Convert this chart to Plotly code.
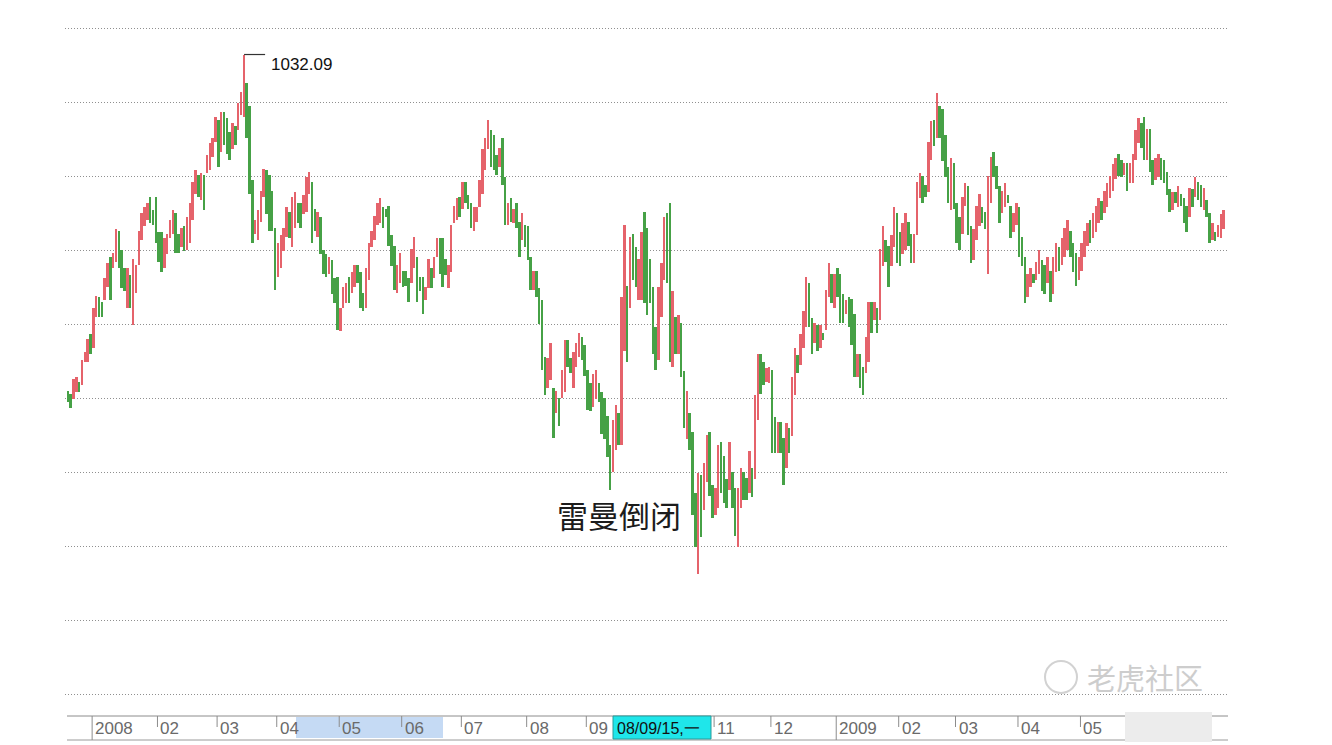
import pandas as pd
import plotly.graph_objects as go

# ---------------- data (daily high / low, gold spot) ----------------
high_dec07 = [805, 803, 813, 814, 811, 826, 831, 840, 843]
low_dec07 = [797, 793, 799, 804, 804, 809, 824, 824, 830]
dir_dec07 = "DDUUDUUUD"

high_2008 = [
    # Jan
    861, 869, 868, 865, 881, 891, 895, 898, 914, 913, 900, 888, 888, 883, 894, 890, 913, 925, 929, 932, 936, 927, 936,
    # Feb
    912, 912, 908, 911, 920, 927, 925, 911, 915, 916, 922, 932, 946, 954, 951, 952, 951, 964, 972, 976, 990,
    # Mar
    988, 993, 993, 989, 980, 986, 984, 999, 1007, 1032.09, 1013, 997, 947, 920, 927, 940, 955, 954, 951, 940, 915,
    # Apr
    905, 910, 915, 929, 926, 936, 939, 932, 932, 937, 949, 953, 946, 928, 926, 922, 900, 897, 895, 893, 881, 882,
    # May
    861, 875, 878, 882, 885, 890, 890, 885, 871, 888, 905, 913, 923, 932, 935, 929, 928, 930, 910, 903, 890, 898,
    # Jun
    886, 886, 881, 901, 909, 895, 882, 882, 875, 894, 888, 895, 908, 908, 908, 894, 890, 917, 930, 935, 936,
    # Jul
    946, 946, 937, 932, 929, 929, 947, 968, 976, 988, 981, 978, 964, 969, 976, 949, 932, 935, 928, 932, 919, 925, 917,
    # Aug
    916, 895, 886, 886, 874, 866, 828, 827, 837, 807, 805, 800, 819, 839, 839, 827, 831, 837, 844, 841, 836,
    # Sep
    819, 810, 816, 819, 810, 804, 800, 788, 768, 785, 795, 790, 868, 917, 876, 909, 911, 902, 894, 912, 926, 915,
    # Oct
    894, 875, 848, 875, 891, 922, 925, 932, 872, 855, 856, 851, 818, 805, 790, 777, 736, 749, 748, 756, 775, 777, 741,
    # Nov
    739, 768, 770, 761, 745, 770, 750, 739, 739, 753, 750, 746, 764, 753, 802, 830, 830, 824, 820, 821,
    # Dec
    819, 787, 784, 784, 773, 783, 780, 814, 834, 829, 843, 859, 882, 878, 854, 851, 849, 849, 844, 873, 891, 884, 884,
]
low_2008 = [
    834, 855, 855, 855, 866, 875, 866, 888, 892, 888, 874, 872, 861, 861, 849, 871, 890, 907, 916, 920, 918, 917, 905,
    892, 885, 888, 897, 908, 911, 898, 898, 902, 899, 900, 905, 920, 938, 936, 934, 927, 952, 954, 963, 973,
    956, 966, 971, 965, 961, 968, 971, 981, 991, 990, 976, 938, 905, 911, 907, 919, 936, 924, 913, 913, 873,
    882, 888, 899, 909, 908, 902, 915, 918, 915, 924, 926, 938, 905, 913, 909, 897, 884, 882, 884, 870, 864, 846,
    845, 861, 864, 864, 871, 875, 878, 861, 859, 861, 880, 902, 907, 917, 918, 915, 922, 903, 889, 873, 871, 878,
    875, 876, 865, 878, 888, 865, 872, 857, 866, 874, 874, 881, 895, 884, 875, 883, 874, 885, 918, 920, 922,
    928, 932, 928, 915, 913, 919, 929, 938, 954, 968, 956, 954, 951, 956, 944, 917, 917, 919, 918, 915, 895, 907, 902,
    893, 873, 873, 868, 850, 819, 802, 807, 812, 773, 790, 781, 800, 804, 821, 817, 807, 821, 828, 826, 815,
    792, 791, 794, 799, 797, 776, 772, 760, 738, 750, 765, 768, 768, 832, 824, 861, 880, 875, 866, 866, 864, 856,
    864, 830, 819, 826, 855, 880, 878, 824, 821, 830, 830, 814, 780, 772, 765, 721, 699, 681, 706, 724, 743, 734, 719,
    721, 726, 736, 729, 726, 738, 726, 707, 699, 726, 731, 731, 736, 733, 745, 785, 803, 809, 811, 810,
    763, 763, 763, 763, 741, 753, 763, 774, 802, 817, 822, 834, 848, 848, 830, 837, 832, 834, 839, 846, 868, 864, 861,
]
dir_2008 = ("UUDDUUDUUDDDUDUUUUUUDDD" "DDUUUUDDUDUUUUDUDUUUU" "DUDDDUDUUUDDDUUUUDDDD"
            "UUUUDUUDDUUUDDUDDDUDDD" "UUUDUUDDDUUUUUUDDDDDUU" "DDDUUDDDUUDUUDDDUUUUD"
            "UDDDUUUUUUDDDUDDUDUDDUD" "DDUDDDDUUDUDUUDDUUUDD" "DDUUDDDDDUUDUUDUDDUUDD"
            "DDDUUUDDUDUDDUDDDUDUUDD" "UUDDDUDDUUDDUDUUDDUU" "DDUDDUDUUDUUUDDUDUDUUDU")

high_2009 = [
    # Jan
    888, 884, 870, 866, 868, 867, 857, 830, 830, 821, 841, 865, 865, 865, 861, 901, 916, 907, 903, 910, 929, 925,
    # Feb
    912, 918, 925, 919, 911, 911, 946, 952, 950, 944, 973, 987, 988, 1006, 997, 995, 978, 956, 962, 959,
    # Mar
    932, 922, 936, 945, 943, 916, 914, 930, 938, 929, 926, 950, 963, 966, 957, 943, 940, 945, 937, 930, 925, 932,
    # Apr
    929, 909, 895, 884, 888, 884, 892, 900, 893, 890, 895, 886, 895, 905, 902, 908, 915, 920, 913, 905, 898, 895,
    # May
    905, 913, 918, 920, 925, 930, 935, 933, 940, 945, 950, 958, 962, 965, 961, 959, 959, 959, 965, 981, 989,
    # Jun
    986, 990, 982, 982, 961, 962, 965, 962, 961, 953, 941, 939, 939, 943, 938, 935, 930, 942, 941, 949, 946, 944,
    # Jul
    942, 934, 925, 918, 912, 917, 924, 927,
]
low_2009 = [
    868, 851, 851, 857, 848, 836, 814, 814, 807, 802, 817, 824, 844, 853, 844, 853, 889, 892, 875, 889, 902, 891,
    889, 897, 900, 903, 891, 891, 910, 935, 932, 936, 939, 961, 970, 976, 976, 960, 949, 932, 927, 928,
    905, 900, 911, 930, 910, 891, 893, 907, 916, 918, 914, 884, 932, 949, 941, 918, 925, 929, 932, 908, 912, 917,
    895, 889, 864, 868, 875, 878, 880, 884, 872, 870, 878, 865, 870, 885, 886, 890, 895, 900, 895, 885, 876, 880,
    886, 895, 903, 905, 908, 912, 918, 920, 925, 929, 935, 940, 948, 950, 949, 951, 940, 945, 945, 961, 972,
    969, 961, 961, 953, 944, 947, 949, 947, 945, 937, 926, 927, 932, 929, 930, 918, 912, 922, 929, 936, 934, 929,
    927, 922, 905, 907, 906, 909, 908, 914,
]
dir_2009 = ("DDDUDDDUDDUUDUDUUDDUUD" "DUUDDUUUDDUUDUDDDDUD" "DDUUDDUUUDDUUDDDUUDDUU"
            "DDDUUDUUDDUDUUDUUUDDDU" "UUUDUUUDUUUUUDDUDUUUU" "DDUDDUUDDDDUDUDDDUDUDD" "UDDUDUUU")

highs = high_dec07 + high_2008 + high_2009
lows = low_dec07 + low_2008 + low_2009
dirs = dir_dec07 + dir_2008 + dir_2009

peak_value = 1032.09
event_text = "雷曼倒闭"
cursor_text = "08/09/15,一"
watermark_text = "老虎社区"

n = min(len(highs), len(lows), len(dirs))
highs, lows, dirs = highs[:n], lows[:n], dirs[:n]
dates = pd.bdate_range("2007-12-19", periods=n)
idx = list(range(n))

# ---------------- figure ----------------
RED = "#e5636b"
GREEN = "#46a146"
colors = [RED if d == "U" else GREEN for d in dirs]

fig = go.Figure()
fig.add_trace(go.Bar(
    x=idx, y=[h - l for h, l in zip(highs, lows)], base=lows,
    marker=dict(color=colors, line=dict(width=0)), width=0.7,
    hoverinfo="skip", showlegend=False,
))

W, H = 1332, 745
ML, MR, MT, MB = 65, 104, 0, 40
PW = W - ML - MR
PH = H - MT - MB
px_per_bar = 2.84
x0 = -3 / px_per_bar
x1 = x0 + PW / px_per_bar
ppd = 1.48
ymax = 1050 + 28 / ppd
ymin = ymax - PH / ppd


def px_x(px):
    return (px - ML) / PW


def px_y(py):
    return (PH + MT - py) / PH


shapes = []
annotations = []

# bottom time band
band_top, band_bot = px_y(716), px_y(740)
shapes.append(dict(type="rect", xref="paper", yref="paper", x0=px_x(296), x1=px_x(443),
                   y0=px_y(738), y1=px_y(717), fillcolor="#c5daf4", line=dict(width=0), layer="below"))
shapes.append(dict(type="line", xref="paper", yref="paper", x0=px_x(67), x1=1, y0=band_top, y1=band_top,
                   line=dict(color="#8c8c8c", width=1)))
shapes.append(dict(type="line", xref="paper", yref="paper", x0=px_x(67), x1=1, y0=band_bot, y1=band_bot,
                   line=dict(color="#9a9a9a", width=1)))

hidden_months = {(2008, 10), (2009, 6), (2009, 7)}
prev = None
for i, d in enumerate(dates):
    key = (d.year, d.month)
    if prev is not None and key != prev:
        xpos = i - 0.5
        is_year = d.month == 1
        shapes.append(dict(type="line", xref="x", yref="paper", x0=xpos, x1=xpos,
                           y0=band_top, y1=band_bot if is_year else px_y(727),
                           line=dict(color="#8c8c8c", width=1)))
        if key not in hidden_months:
            annotations.append(dict(x=xpos, y=px_y(728), xref="x", yref="paper",
                                    text=str(d.year) if is_year else f"{d.month:02d}",
                                    showarrow=False, xanchor="left", yanchor="middle", xshift=1,
                                    font=dict(family="Liberation Sans, Arial", size=17, color="#6a6a6a")))
    prev = key

# cursor date box
shapes.append(dict(type="rect", xref="paper", yref="paper", x0=px_x(613), x1=px_x(711),
                   y0=px_y(739), y1=px_y(716), fillcolor="#1fe6ea", line=dict(color="#2a9a9a", width=1)))
annotations.append(dict(x=px_x(615), y=px_y(728), xref="paper", yref="paper", text=cursor_text,
                        showarrow=False, xanchor="left", yanchor="middle",
                        font=dict(family="Liberation Sans, Arial", size=16, color="#111")))

# blurred region
shapes.append(dict(type="rect", xref="paper", yref="paper", x0=px_x(1125), x1=px_x(1212),
                   y0=px_y(742), y1=px_y(712), fillcolor="#ececec", line=dict(width=0)))

# peak marker
peak_i = highs.index(max(highs))
shapes.append(dict(type="line", xref="x", yref="y", x0=peak_i, x1=peak_i + 7.4,
                   y0=peak_value, y1=peak_value, line=dict(color="#333", width=1.2)))
annotations.append(dict(x=peak_i + 8.6, y=peak_value - 7, xref="x", yref="y", text=f"{peak_value:.2f}",
                        showarrow=False, xanchor="left", yanchor="middle",
                        font=dict(family="Liberation Sans, Arial", size=17, color="#111")))

# event label
lehman_i = (619 - ML) / px_per_bar + x0
annotations.append(dict(x=lehman_i, y=ymin + (PH + MT - 514) / ppd, xref="x", yref="y", text=event_text,
                        showarrow=False, xanchor="center", yanchor="middle",
                        font=dict(family="Noto Sans CJK SC", size=31, color="#1c1c1c")))

# watermark
shapes.append(dict(type="circle", xref="paper", yref="paper", x0=px_x(1045), x1=px_x(1077),
                   y0=px_y(693), y1=px_y(661), line=dict(color="#d2d2d2", width=2)))
annotations.append(dict(x=px_x(1145), y=px_y(677), xref="paper", yref="paper", text=watermark_text,
                        showarrow=False, xanchor="center", yanchor="middle",
                        font=dict(family="Noto Sans CJK SC", size=29, color="#cdcdcd")))

fig.update_layout(
    width=W, height=H,
    margin=dict(l=ML, r=MR, t=MT, b=MB),
    paper_bgcolor="white", plot_bgcolor="white",
    shapes=shapes, annotations=annotations,
    bargap=0, hovermode=False,
    xaxis=dict(range=[x0, x1], showticklabels=False, showgrid=False, zeroline=False,
               showline=False, ticks="", fixedrange=True),
    yaxis=dict(range=[ymin, ymax], showticklabels=False, zeroline=False, showline=False, ticks="",
               tickvals=[600, 650, 700, 750, 800, 850, 900, 950, 1000, 1050],
               showgrid=True, gridcolor="#8f8f8f", gridwidth=1, griddash="1px,2px", fixedrange=True),
)

fig.write_html("out.html", config={"displayModeBar": False},
               post_script="document.body.style.margin='0px';document.body.style.overflow='hidden';")
